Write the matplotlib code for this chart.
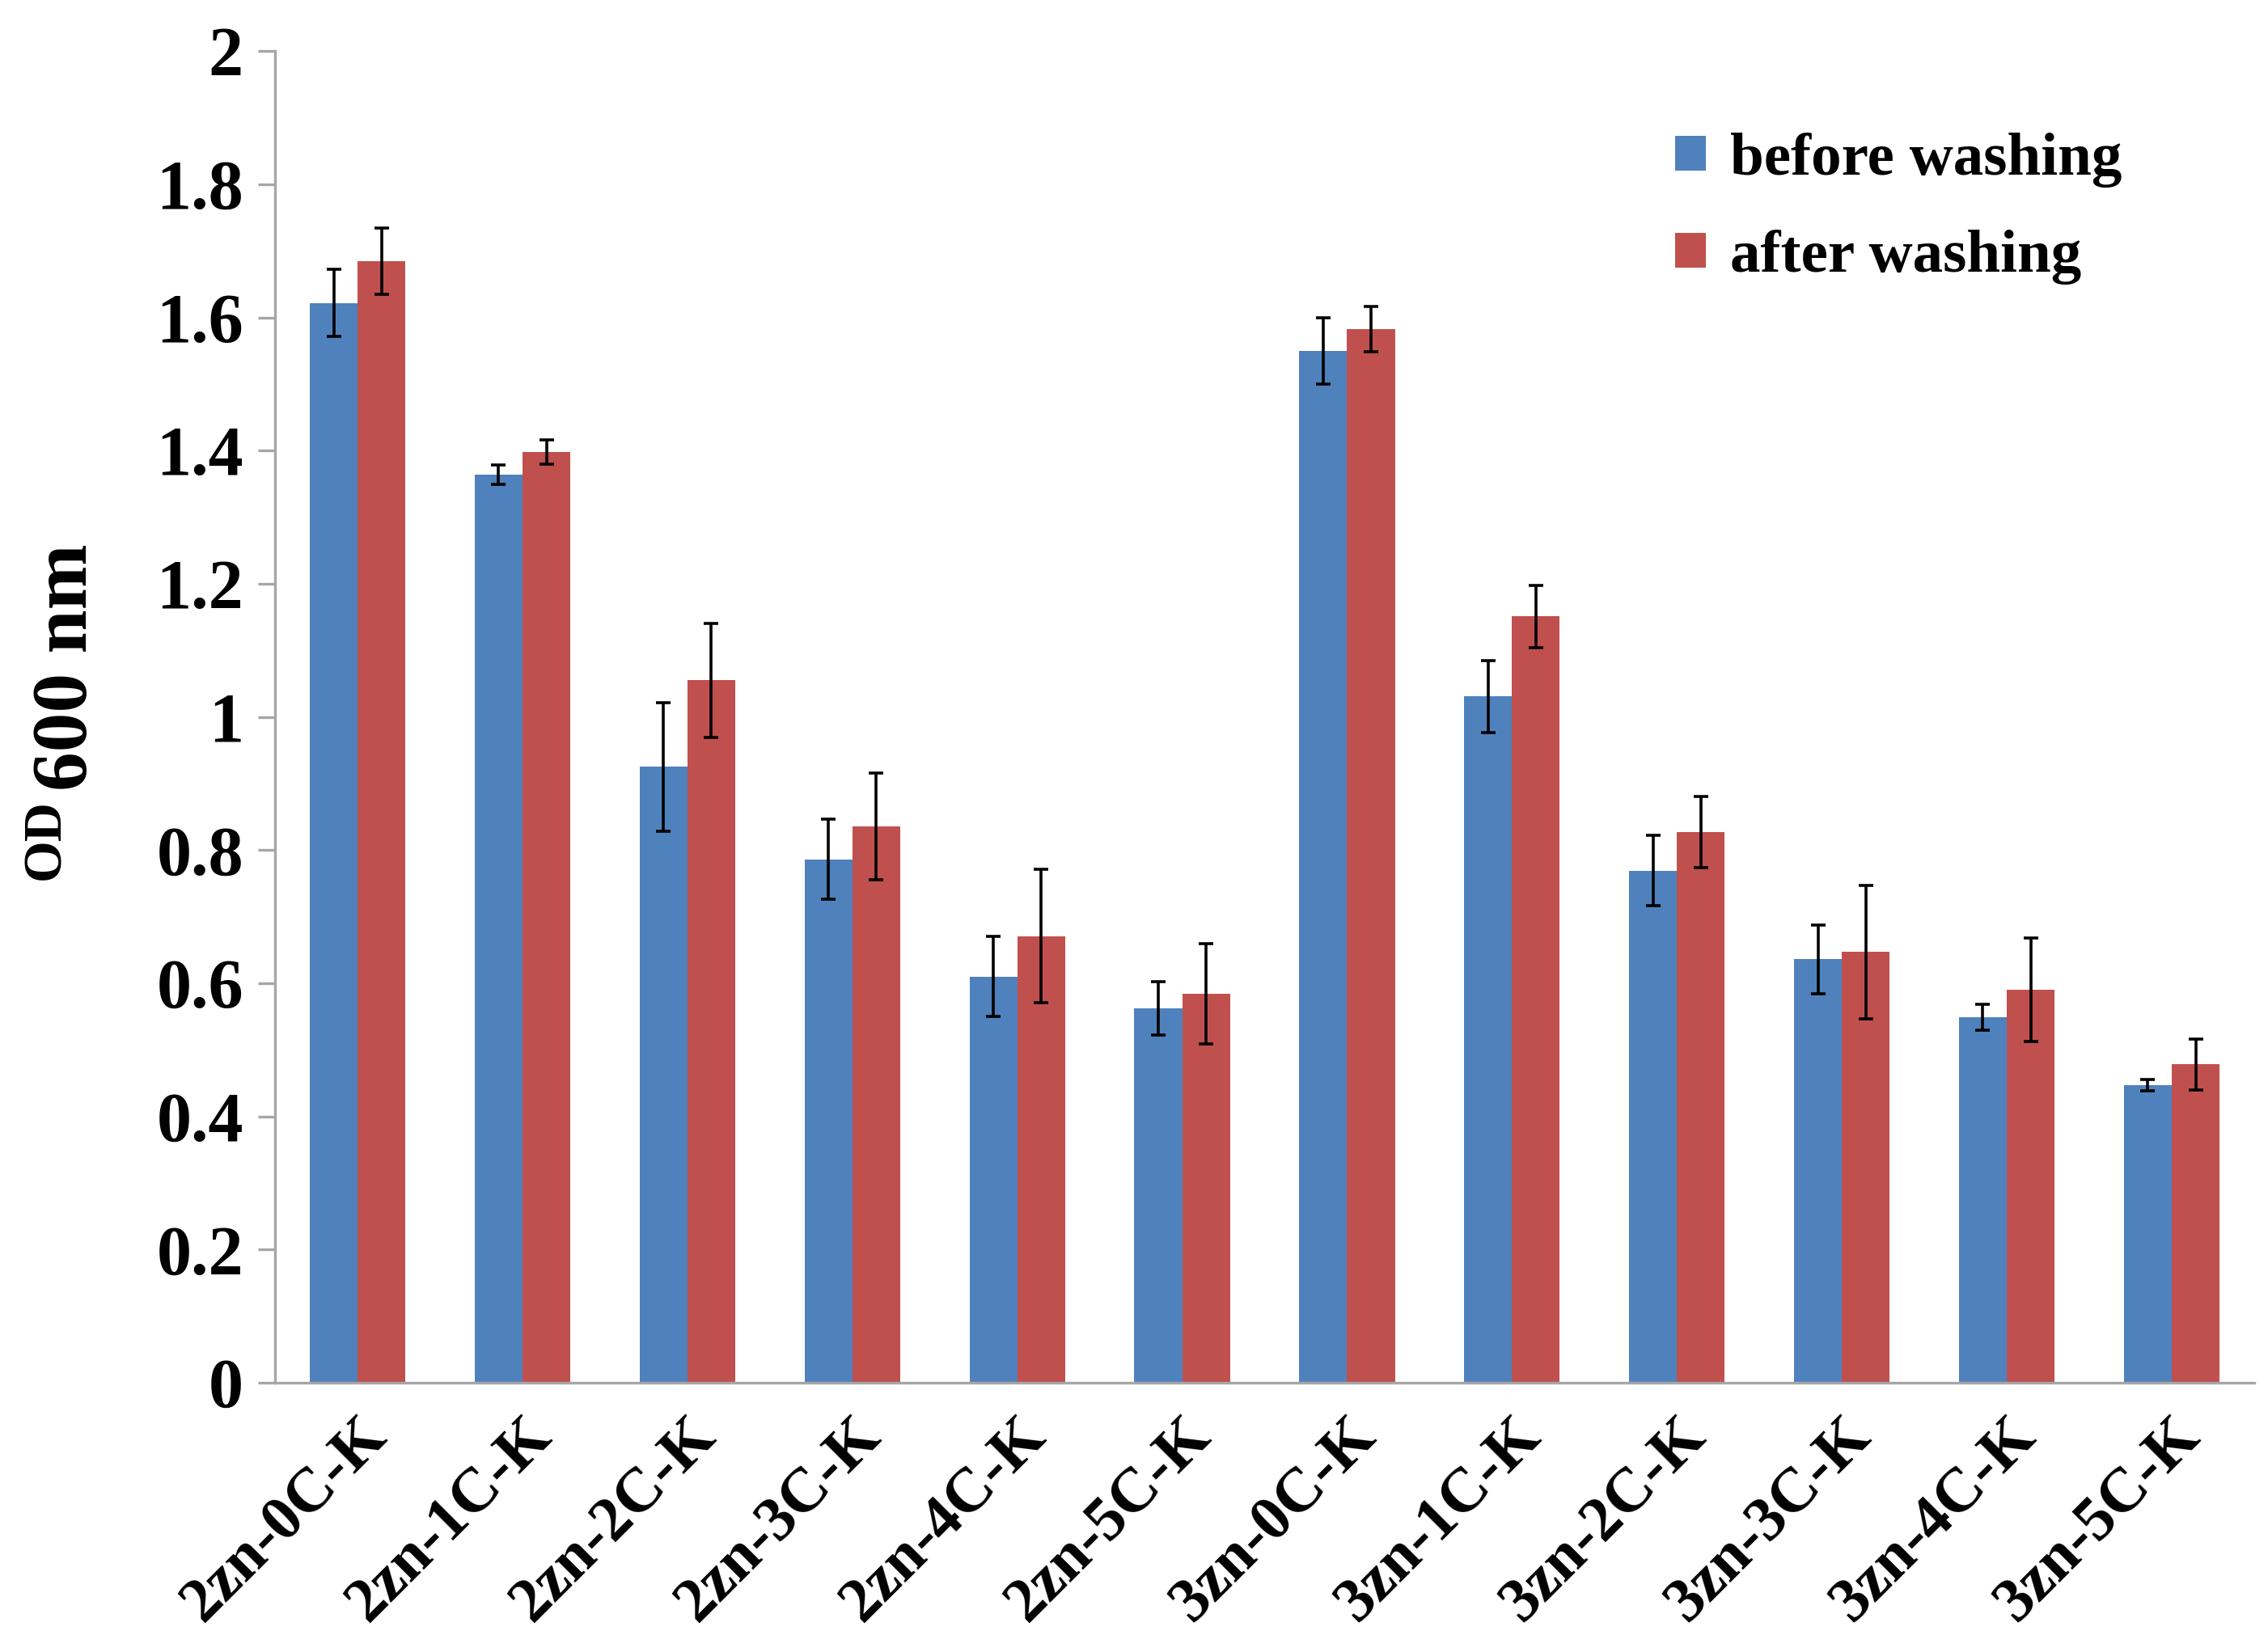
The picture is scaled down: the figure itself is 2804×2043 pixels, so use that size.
import numpy as np
import matplotlib
matplotlib.use('Agg')
import matplotlib.pyplot as plt

plt.rcParams['font.family'] = ['Liberation Serif', 'DejaVu Serif']
plt.rcParams['font.weight'] = 'bold'

samples = ['2zn-0C-K', '2zn-1C-K', '2zn-2C-K', '2zn-3C-K', '2zn-4C-K', '2zn-5C-K',
           '3zn-0C-K', '3zn-1C-K', '3zn-2C-K', '3zn-3C-K', '3zn-4C-K', '3zn-5C-K']
before = [1.622, 1.364, 0.925, 0.786, 0.610, 0.562,
          1.550, 1.031, 0.769, 0.636, 0.549, 0.447]
before_err = [0.050, 0.015, 0.097, 0.060, 0.060, 0.040,
              0.050, 0.054, 0.053, 0.052, 0.020, 0.009]
after = [1.685, 1.398, 1.055, 0.836, 0.671, 0.584,
         1.583, 1.151, 0.827, 0.647, 0.590, 0.478]
after_err = [0.050, 0.018, 0.086, 0.080, 0.100, 0.075,
             0.034, 0.047, 0.053, 0.100, 0.078, 0.038]
yticks = [0, 0.2, 0.4, 0.6, 0.8, 1.0, 1.2, 1.4, 1.6, 1.8, 2.0]
ytick_labels = ['0', '0.2', '0.4', '0.6', '0.8', '1', '1.2', '1.4', '1.6', '1.8', '2']

blue = '#4F81BD'
red = '#C0504D'
axis_grey = '#A6A6A6'

fig = plt.figure(figsize=(14.02, 10.215), dpi=200)
ax = fig.add_axes([0.1213, 0.163, 0.8726, 0.806])

x = np.arange(len(samples))
width = 0.29
err_kw = dict(ecolor='black', elinewidth=1.3, capsize=3.2, capthick=1.3)
ax.bar(x - width / 2, before, width, yerr=before_err, color=blue,
       label='before washing', error_kw=err_kw)
ax.bar(x + width / 2, after, width, yerr=after_err, color=red,
       label='after washing', error_kw=err_kw)

ax.set_xlim(-0.5, len(samples) - 0.5)
ax.set_ylim(0, 2)
ax.set_yticks(yticks, ytick_labels, fontsize=31, fontweight='bold')
ax.set_xticks(x, samples, fontsize=28, fontweight='bold', rotation=45,
              ha='right', rotation_mode='anchor')

for side in ['top', 'right']:
    ax.spines[side].set_visible(False)
for side in ['left', 'bottom']:
    ax.spines[side].set_color(axis_grey)
    ax.spines[side].set_linewidth(1.2)
ax.tick_params(axis='y', length=7.6, width=1.2, color=axis_grey, pad=6.5)
ax.tick_params(axis='x', length=0, pad=11)

# y label: raised "OD" followed by larger "600 nm"
fig.text(0.031, 0.492, 'OD', rotation=90, fontsize=24, fontweight='bold',
         ha='right', va='center')
fig.text(0.0455, 0.596, '600 nm', rotation=90, fontsize=35, fontweight='bold',
         ha='right', va='center')

ax.legend(loc='upper left', bbox_to_anchor=(0.68, 0.98), frameon=False,
          prop={'size': 27, 'weight': 'bold'}, handlelength=0.5,
          handleheight=0.5, handletextpad=0.4, labelspacing=0.7)

fig.savefig('out.png', dpi=200)
